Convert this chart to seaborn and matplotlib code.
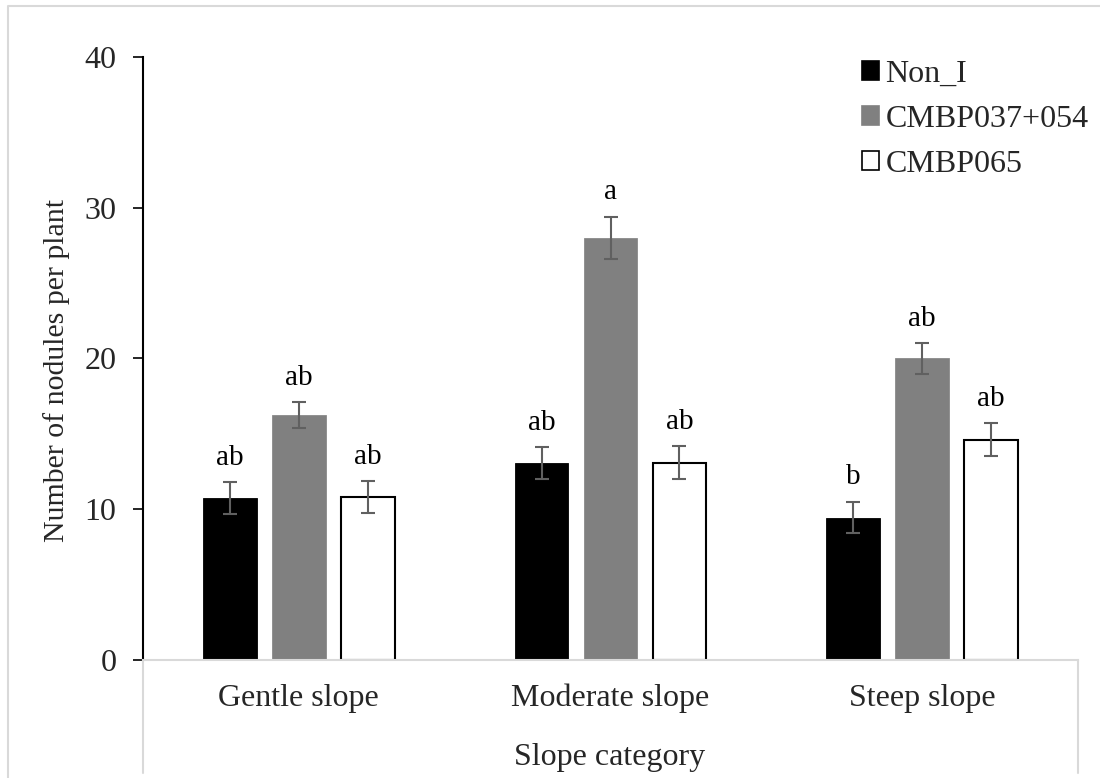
import matplotlib
matplotlib.use("Agg")
import matplotlib.pyplot as plt
from matplotlib.patches import Patch
from matplotlib.lines import Line2D
import seaborn as sns
import pandas as pd

# ---- data ----
slopes = ["Gentle slope", "Moderate slope", "Steep slope"]
treatments = ["Non_I", "CMBP037+054", "CMBP065"]
non_i = [10.75, 13.05, 9.45]
cmbp037_054 = [16.25, 28.0, 20.0]
cmbp065 = [10.8, 13.1, 14.6]
err_non_i = [1.05, 1.05, 1.05]
err_cmbp037_054 = [0.85, 1.4, 1.0]
err_cmbp065 = [1.08, 1.1, 1.1]
letters_non_i = ["ab", "ab", "b"]
letters_cmbp037_054 = ["ab", "a", "ab"]
letters_cmbp065 = ["ab", "ab", "ab"]
y_ticks = [0, 10, 20, 30, 40]
y_label = "Number of nodules per plant"
x_label = "Slope category"

values = {"Non_I": non_i, "CMBP037+054": cmbp037_054, "CMBP065": cmbp065}
errors = {"Non_I": err_non_i, "CMBP037+054": err_cmbp037_054, "CMBP065": err_cmbp065}
letters = {"Non_I": letters_non_i, "CMBP037+054": letters_cmbp037_054, "CMBP065": letters_cmbp065}

rows = []
for t in treatments:
    for s, v in zip(slopes, values[t]):
        rows.append({"slope": s, "treatment": t, "value": v})
df = pd.DataFrame(rows)

sns.set_style("white")
plt.rcParams["font.family"] = ["Liberation Serif", "DejaVu Serif"]

W, H = 1100, 778
fig = plt.figure(figsize=(W / 100, H / 100), dpi=100)
ax = fig.add_axes([143 / W, 1 - 660 / H, (1078 - 143) / W, (660 - 57) / H])

colors = {"Non_I": "#000000", "CMBP037+054": "#808080", "CMBP065": "#ffffff"}
edges = {"Non_I": "#000000", "CMBP037+054": "#8a8a8a", "CMBP065": "#000000"}

sns.barplot(data=df, x="slope", y="value", hue="treatment", order=slopes,
            hue_order=treatments, palette=[colors[t] for t in treatments],
            width=0.663, gap=0.22, errorbar=None, legend=False, ax=ax,
            saturation=1)

ecol = "#606060"
for t, cont in zip(treatments, ax.containers):
    for bar in cont:
        xc = bar.get_x() + bar.get_width() / 2
        j = int(round(xc))
        bar.set_edgecolor(edges[t])
        bar.set_linewidth(1.5 if t == "CMBP065" else 0.6)
        v = values[t][j]
        e = errors[t][j]
        ax.errorbar(xc, v, yerr=e, fmt="none", ecolor=ecol, elinewidth=1.5,
                    capsize=5, capthick=1.5, zorder=5)
        ax.text(xc, v + e + 1.15, letters[t][j], ha="center", va="baseline",
                fontsize=21, color="black")

ax.set_xlim(-0.5, 2.5)
ax.set_ylim(0, 40)
ax.set_yticks(y_ticks)
ax.set_yticklabels([str(v) for v in y_ticks], fontsize=23)
ax.tick_params(axis="y", direction="out", length=7, width=1.2, color="black",
               pad=12, left=True)
ax.tick_params(axis="x", length=0, labelsize=23, pad=17)
ax.set_xlabel("")
ax.set_ylabel("")
for s in ["top", "right"]:
    ax.spines[s].set_visible(False)
ax.spines["left"].set_color("black")
ax.spines["left"].set_linewidth(1.5)
ax.spines["bottom"].set_color("#d9d9d9")
ax.spines["bottom"].set_linewidth(1.5)

fig.text(57 / W, 1 - 370 / H, y_label, rotation=90, ha="center", va="center",
         fontsize=21.5)
fig.text(610 / W, 1 - 757 / H, x_label, ha="center", va="center", fontsize=23)

# category box lines below axis
for xp in [143, 1078]:
    fig.add_artist(Line2D([xp / W, xp / W], [1 - 660 / H, 1 - 773 / H],
                          transform=fig.transFigure, color="#d9d9d9", lw=1.5))
# outer chart border
fig.add_artist(Line2D([8 / W, 8 / W, 1.0], [0, 1 - 6 / H, 1 - 6 / H],
                      transform=fig.transFigure, color="#d9d9d9", lw=1.5))

handles = [Patch(facecolor=colors[t], edgecolor=("black" if t == "CMBP065" else colors[t]),
                 linewidth=1.2) for t in treatments]
ax.legend(handles, treatments, loc="upper left",
          bbox_to_anchor=(862 / W, 1 - 60 / H), bbox_transform=fig.transFigure,
          frameon=False, fontsize=23, handlelength=0.53, handleheight=0.53,
          handletextpad=0.2, labelspacing=0.5, borderpad=0, borderaxespad=0)

fig.savefig("out.png", dpi=100, facecolor="white")
